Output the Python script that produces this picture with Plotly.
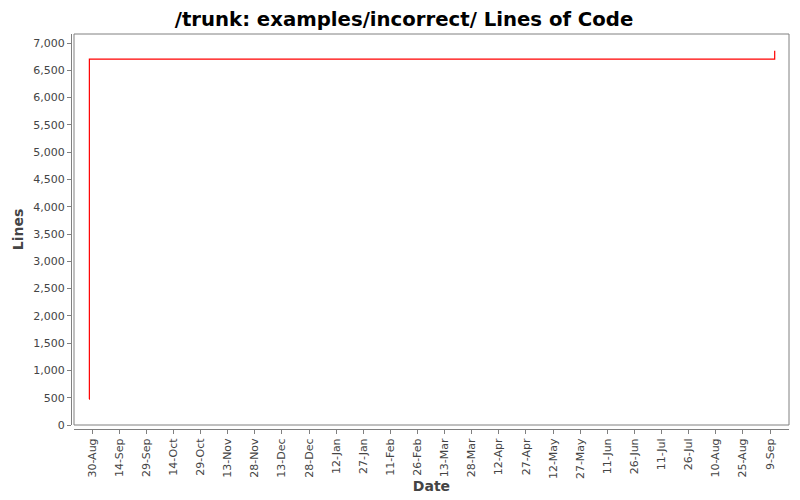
import plotly.graph_objects as go

# commit dates and lines of code (step chart)
dates = ["2006-08-28 08:00", "2006-08-28 12:00", "2007-09-11 14:00"]
lines = [475, 6705, 6860]

x_range = ["2006-08-20 00:00", "2007-09-19 12:00"]
y_range = [0, 7165]

# page body has an 8px margin, so the figure is drawn 8px smaller
W, H = 792, 492
ml, mr, mt, mb = 63, 11, 26, 71
pw = W - ml - mr
ph = H - mt - mb
x0 = 3 / pw
y0 = 4 / ph

grey = "#808080"
txt = "#444444"

fig = go.Figure()
fig.add_trace(go.Scatter(
    x=dates,
    y=lines,
    mode="lines",
    line=dict(color="#ff0000", width=1.2, shape="hv"),
    showlegend=False,
))

fig.add_shape(type="rect", xref="paper", yref="paper",
              x0=x0, y0=y0, x1=1, y1=1,
              line=dict(color=grey, width=1))

fig.update_layout(
    width=W, height=H,
    margin=dict(l=ml, r=mr, t=mt, b=mb, autoexpand=False),
    paper_bgcolor="white",
    plot_bgcolor="white",
    font=dict(family="DejaVu Sans", size=11, color=txt),
    title=dict(
        text="<b>/trunk: examples/incorrect/ Lines of Code</b>",
        x=0.5, xanchor="center", y=0.977, yanchor="middle",
        font=dict(family="DejaVu Sans", size=19.7, color="#000000"),
    ),
    xaxis=dict(
        domain=[x0, 1],
        anchor="free", position=0,
        automargin=False,
        type="date",
        range=x_range,
        tick0="2006-08-30",
        dtick=15 * 86400000,
        tickformat="%-d-%b",
        tickangle=-90,
        ticks="outside", ticklen=4, tickcolor=grey,
        showline=True, linecolor=grey, linewidth=1,
        showgrid=False, zeroline=False,
        title=dict(text="<b>Date</b>", font=dict(size=14, color=txt), standoff=3),
    ),
    yaxis=dict(
        domain=[y0, 1],
        anchor="free", position=0,
        automargin=False,
        range=y_range,
        dtick=500,
        tickformat=",d",
        ticks="outside", ticklen=4, tickcolor=grey,
        showline=True, linecolor=grey, linewidth=1,
        showgrid=False, zeroline=False,
        title=dict(text="<b>Lines</b>", font=dict(size=14, color=txt), standoff=5),
    ),
)

fig.write_html("out.html")
